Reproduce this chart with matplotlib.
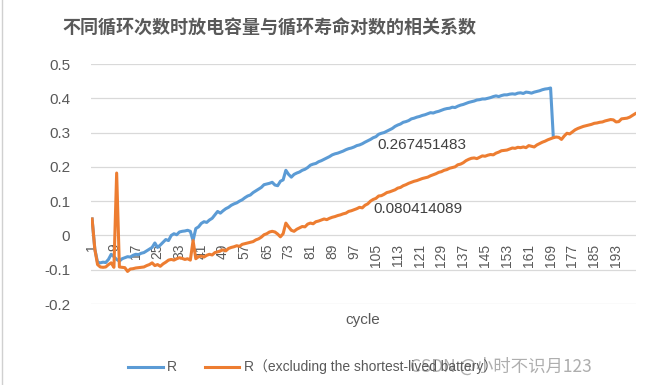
import matplotlib
matplotlib.use("Agg")
import matplotlib.pyplot as plt
from matplotlib.lines import Line2D

plt.rcParams['font.family'] = ['Liberation Sans', 'Noto Sans CJK SC', 'DejaVu Sans']

title = "不同循环次数时放电容量与循环寿命对数的相关系数"
xlabel = "cycle"
series_names = ["R", "R（excluding the shortest-lived battery）"]

r_all = [
    0.048, -0.04, -0.078, -0.08, -0.078, -0.079, -0.07, -0.055, -0.062, -0.07,
    -0.075, -0.068, -0.065, -0.062, -0.063, -0.058, -0.055, -0.056, -0.052, -0.05,
    -0.045, -0.04, -0.035, -0.022, -0.035, -0.028, -0.02, -0.012, -0.015, 0.0,
    0.005, 0.002, 0.01, 0.012, 0.013, 0.015, 0.012, -0.015, 0.02, 0.025,
    0.035, 0.04, 0.038, 0.045, 0.05, 0.06, 0.07, 0.065, 0.072, 0.078,
    0.082, 0.088, 0.092, 0.095, 0.1, 0.104, 0.11, 0.115, 0.118, 0.125,
    0.13, 0.135, 0.14, 0.148, 0.15, 0.152, 0.155, 0.147, 0.145, 0.158,
    0.162, 0.19, 0.178, 0.17, 0.178, 0.182, 0.185, 0.19, 0.193, 0.198,
    0.205, 0.208, 0.21, 0.215, 0.218, 0.222, 0.226, 0.23, 0.235, 0.238,
    0.24, 0.243, 0.246, 0.25, 0.253, 0.255, 0.258, 0.262, 0.264, 0.267451483,
    0.272, 0.276, 0.28, 0.285, 0.288, 0.295, 0.298, 0.3, 0.304, 0.308,
    0.312, 0.318, 0.322, 0.325, 0.33, 0.332, 0.335, 0.34, 0.342, 0.345,
    0.347, 0.35, 0.352, 0.355, 0.358, 0.357, 0.36, 0.362, 0.365, 0.368,
    0.37, 0.371, 0.374, 0.373, 0.377, 0.38, 0.382, 0.385, 0.388, 0.39,
    0.392, 0.395, 0.396, 0.398, 0.398, 0.4, 0.402, 0.405, 0.407, 0.405,
    0.408, 0.41, 0.41, 0.412, 0.413, 0.412, 0.415, 0.416, 0.414, 0.418,
    0.417, 0.415, 0.418, 0.42, 0.422, 0.425, 0.427, 0.428, 0.43, 0.287,
]

r_excl = [
    0.048, -0.04, -0.085, -0.092, -0.093, -0.092, -0.085, -0.08, -0.093, 0.182,
    -0.092, -0.093, -0.094, -0.105, -0.098, -0.097, -0.095, -0.094, -0.093, -0.092,
    -0.088, -0.085, -0.08, -0.088, -0.085, -0.09, -0.083, -0.078, -0.072, -0.07,
    -0.072, -0.068, -0.065, -0.067, -0.07, -0.068, -0.072, -0.015, -0.068, -0.062,
    -0.06, -0.063, -0.058, -0.055, -0.057, -0.05, -0.048, -0.045, -0.042, -0.045,
    -0.038, -0.035, -0.033, -0.03, -0.032, -0.026, -0.024, -0.022, -0.02, -0.018,
    -0.013, -0.01, -0.005, 0.002, 0.005, 0.01, 0.012, 0.01, 0.004, -0.004,
    0.005, 0.036, 0.025, 0.015, 0.012, 0.018, 0.022, 0.026, 0.025, 0.033,
    0.036, 0.034, 0.04, 0.042, 0.045, 0.048, 0.046, 0.05, 0.053, 0.055,
    0.058, 0.06, 0.063, 0.065, 0.07, 0.072, 0.075, 0.078, 0.082, 0.080414089,
    0.088, 0.092, 0.1, 0.105, 0.108, 0.115, 0.116, 0.12, 0.125, 0.127,
    0.13, 0.133, 0.138, 0.14, 0.145, 0.148, 0.152, 0.155, 0.158, 0.16,
    0.163, 0.166, 0.168, 0.17, 0.174, 0.177, 0.18, 0.184, 0.186, 0.19,
    0.192, 0.196, 0.198, 0.2, 0.206, 0.208, 0.212, 0.218, 0.222, 0.225,
    0.226, 0.224, 0.228, 0.232, 0.231, 0.234, 0.236, 0.235, 0.24, 0.243,
    0.247, 0.248, 0.249, 0.252, 0.255, 0.254, 0.257, 0.256, 0.258, 0.256,
    0.262, 0.26, 0.258, 0.264, 0.268, 0.272, 0.275, 0.279, 0.282, 0.285,
    0.287, 0.286, 0.28, 0.29, 0.298, 0.296, 0.302, 0.308, 0.312, 0.315,
    0.318, 0.32, 0.322, 0.324, 0.327, 0.328, 0.33, 0.331, 0.334, 0.336,
    0.338, 0.337, 0.331, 0.332, 0.34, 0.341, 0.342, 0.345, 0.35, 0.355,
]

cycles_all = list(range(1, len(r_all) + 1))
cycles_excl = list(range(1, len(r_excl) + 1))
tick_cycles = cycles_excl[::8]
tick_labels = [str(c) for c in tick_cycles]
yticks = [-0.2, -0.1, 0, 0.1, 0.2, 0.3, 0.4, 0.5]
ytick_labels = ["-0.2", "-0.1", "0", "0.1", "0.2", "0.3", "0.4", "0.5"]
label_index = 99

BLUE = "#5B9BD5"
ORANGE = "#ED7D31"
TXT = "#595959"

fig = plt.figure(figsize=(6.46, 3.85), dpi=100)
ax = fig.add_axes([91/646, 1 - 304/385, (636 - 91)/646, (304 - 64)/385])

l1, = ax.plot(cycles_all, r_all, color=BLUE, lw=2.2, solid_joinstyle='round')
l2, = ax.plot(cycles_excl, r_excl, color=ORANGE, lw=2.2, solid_joinstyle='round')

ax.set_ylim(-0.2, 0.5)
ax.set_xlim(0.6, 200.3)
ax.set_yticks(yticks)
ax.set_yticklabels(ytick_labels)
ax.grid(axis='y', color='#d9d9d9', lw=0.9)
ax.set_axisbelow(True)
for s in ['top', 'right', 'left']:
    ax.spines[s].set_visible(False)
ax.spines['bottom'].set_position(('data', 0))
ax.spines['bottom'].set_visible(False)
ax.set_xticks(tick_cycles)
ax.set_xticklabels(tick_labels, rotation=90)
ax.tick_params(axis='x', length=0, pad=6, labelsize=10, labelcolor=TXT)
ax.tick_params(axis='y', length=0, pad=15, labelsize=11, labelcolor=TXT)

ax.annotate(f"{r_all[label_index]:.9f}", (cycles_all[label_index], r_all[label_index]),
            xytext=(11, -1), textcoords='offset points', va='center', ha='left',
            fontsize=11, color='#404040')
ax.annotate(f"{r_excl[label_index]:.9f}", (cycles_excl[label_index], r_excl[label_index]),
            xytext=(8, -1), textcoords='offset points', va='center', ha='left',
            fontsize=11, color='#404040')

fig.text(62/646, 1 - 28/385, title, ha='left', va='center', fontsize=13,
         fontweight='bold', color=TXT, family=['Noto Sans CJK SC', 'DejaVu Sans'])
fig.text(363/646, 1 - 320/385, xlabel, ha='center', va='center', fontsize=11, color=TXT)

leg = fig.legend([l1, l2], series_names, loc='center left',
                 bbox_to_anchor=(128/646, 1 - 367/385), ncol=2, frameon=False,
                 fontsize=10, handlelength=2.5, columnspacing=2.0, handletextpad=0.3,
                 borderpad=0, borderaxespad=0)
for t in leg.get_texts():
    t.set_color(TXT)

fig.text(410/646, 1 - 367/385, "CSDN @小时不识月123", ha='left', va='center',
         fontsize=12.5, color='#9a9a9a', alpha=0.8,
         family=['Noto Sans CJK SC', 'DejaVu Sans'])

fig.add_artist(Line2D([1.5/646, 1.5/646], [0, 1], color='#d0d0d0', lw=1))

fig.savefig("out.png", dpi=100)
